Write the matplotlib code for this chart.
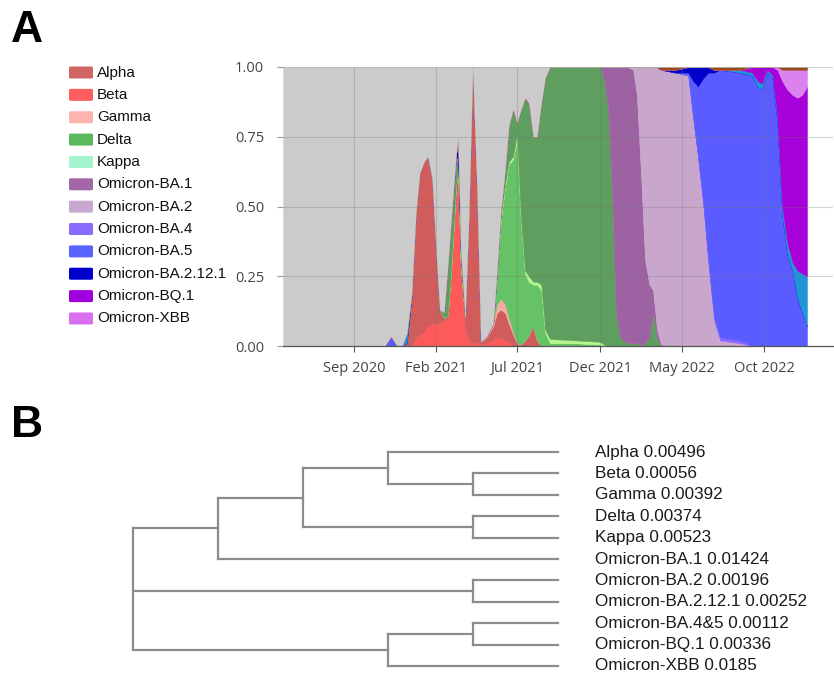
import matplotlib
matplotlib.use("Agg")
import matplotlib.pyplot as plt
import numpy as np
import pandas as pd
from matplotlib.patches import FancyBboxPatch

# %% data: lineage frequencies
dates = pd.to_datetime([
    "2020-04-23", "2020-10-28", "2020-11-09", "2020-11-20", "2020-11-29",
    "2020-12-08", "2020-12-17", "2020-12-25", "2021-01-01", "2021-01-09",
    "2021-01-16", "2021-01-24", "2021-01-31", "2021-02-07", "2021-02-15",
    "2021-02-22", "2021-03-02", "2021-03-09", "2021-03-13", "2021-03-18",
    "2021-03-26", "2021-04-02", "2021-04-09", "2021-04-17", "2021-04-24",
    "2021-05-05", "2021-05-17", "2021-05-24", "2021-05-31", "2021-06-08",
    "2021-06-15", "2021-06-23", "2021-06-30", "2021-07-07", "2021-07-15",
    "2021-07-22", "2021-07-30", "2021-08-06", "2021-08-14", "2021-08-21",
    "2021-08-30", "2021-10-16", "2021-12-01", "2021-12-08", "2021-12-16",
    "2021-12-23", "2021-12-30", "2022-01-07", "2022-01-20", "2022-01-31",
    "2022-02-07", "2022-02-15", "2022-02-22", "2022-03-02", "2022-03-09",
    "2022-03-16", "2022-03-24", "2022-04-19", "2022-05-13", "2022-05-22",
    "2022-05-31", "2022-06-10", "2022-06-19", "2022-06-30", "2022-07-11",
    "2022-08-17", "2022-09-08", "2022-09-18", "2022-09-27", "2022-10-06",
    "2022-10-16", "2022-10-25", "2022-11-03", "2022-11-12", "2022-11-22",
    "2022-12-01", "2022-12-10", "2022-12-19",
])


def span(start, values):
    # series is zero outside the stretch where it was seen
    arr = np.zeros(len(dates))
    arr[start:start + len(values)] = values
    return arr


beta = span(7, [0.03, 0.04, 0.05, 0.07, 0.08, 0.08, 0.08, 0.09, 0.10, 0.30,
                0.52, 0.58, 0.25, 0.06, 0.02, 0.01, 0.01, 0.005, 0.01, 0.02,
                0.03, 0.03, 0.02, 0.01])
alpha = span(5, [0.01, 0.18, 0.45, 0.58, 0.61, 0.61, 0.52, 0.27, 0.05, 0.01,
                 0.01, 0.03, 0.05, 0.06, 0.04, 0.04, 0.45, 0.99, 0.55, 0.01,
                 0.02, 0.05, 0.09, 0.10, 0.10, 0.07, 0.04, 0.01, 0.005, 0.02,
                 0.04, 0.07, 0.02])
gamma = span(25, [0.005, 0.01, 0.03, 0.04, 0.03, 0.02, 0.01])
delta = span(27, [0.12, 0.28, 0.42, 0.55, 0.62, 0.73, 0.45, 0.24, 0.19, 0.15,
                  0.20, 0.20, 0.05, 0.01, 0.01, 0.005])
kappa = span(28, [0.01, 0.01, 0.01, 0.01, 0.02, 0.01, 0.01, 0.02, 0.01, 0.01,
                  0.02, 0.01, 0.015, 0.01, 0.01, 0.005])
delta_ay = span(14, [0.02, 0.18, 0.17, 0.10, 0.04, 0.04, 0, 0, 0, 0,
                     0, 0, 0, 0, 0.02, 0.05, 0.13, 0.17, 0.04, 0.38,
                     0.62, 0.62, 0.52, 0.52, 0.65, 0.90, 0.975, 0.98, 0.985, 0.95,
                     0.85, 0.55, 0.12, 0.03, 0.01, 0.01, 0.01, 0.0, 0.01, 0.03,
                     0.12, 0.03])
ba1 = span(43, [0.045, 0.15, 0.45, 0.88, 0.97, 0.99, 0.98, 0.89, 0.60, 0.30,
                0.19, 0.08, 0.03, 0.005])
ba2 = span(49, [0.01, 0.10, 0.40, 0.69, 0.78, 0.80, 0.94, 0.985, 0.98, 0.97,
                0.82, 0.68, 0.50, 0.30, 0.09, 0.02, 0.01])
ba4 = span(61, [0.01, 0.01, 0.01, 0.01, 0.01])
ba5 = span(2, [0.035]) + span(58, [0.01, 0.13, 0.25, 0.45, 0.67, 0.88, 0.96,
                                   0.96, 0.97, 0.93, 0.92, 0.98, 0.96, 0.80,
                                   0.47, 0.33, 0.27, 0.17, 0.12, 0.07])
ba2121 = span(17, [0.01, 0.07, 0.01]) + span(57, [0.01, 0.02, 0.05, 0.07,
                                                 0.04, 0.02, 0.01])
ba46 = span(5, [0.035, 0.005]) + span(65, [0.01, 0.01, 0.02, 0.02, 0.01, 0.01,
                                          0.02, 0.03, 0.04, 0.03, 0.10, 0.14,
                                          0.18])
bq1 = span(66, [0.02, 0.05, 0.06, 0.01, 0.03, 0.17, 0.45, 0.55, 0.60, 0.62,
                0.64, 0.68])
xbb = span(71, [0.01, 0.04, 0.07, 0.09, 0.10, 0.09, 0.06])
recomb = span(56, [0.01, 0.01]) + span(63, [0.01, 0.01, 0.01]) \
    + span(72, [0.01, 0.01, 0.01, 0.01, 0.01, 0.01])

layers = [beta, alpha, gamma, delta, kappa, delta_ay, ba1, ba2, ba4, ba5,
          ba2121, ba46, bq1, xbb, recomb]
other = np.clip(1.0 - np.sum(layers, axis=0), 0, None)

layer_colors = ["#ff5a5a", "#d05c5c", "#f7aaa3", "#66c266", "#b6f78a",
                "#5e9e5e", "#9c62a2", "#c9a7cd", "#8a66ff", "#5a5cff",
                "#0000c8", "#2095d8", "#a800d8", "#dc82f0", "#9a4a1a",
                "#cbcbcb"]

legend_names = ["Alpha", "Beta", "Gamma", "Delta", "Kappa", "Omicron-BA.1",
                "Omicron-BA.2", "Omicron-BA.4", "Omicron-BA.5",
                "Omicron-BA.2.12.1", "Omicron-BQ.1", "Omicron-XBB"]
legend_colors = ["#d26464", "#ff5e5e", "#ffb3b0", "#5cb85c", "#a3f5d0",
                 "#a367a8", "#c8a8d0", "#8a6bff", "#5a62ff", "#0000cc",
                 "#a000dd", "#d86ef0"]

tick_dates = pd.to_datetime(["2020-09-01", "2021-02-01", "2021-07-01",
                             "2021-12-01", "2022-05-01", "2022-10-01"])
tick_labels = ["Sep 2020", "Feb 2021", "Jul 2021", "Dec 2021", "May 2022",
               "Oct 2022"]
y_ticks = [0.0, 0.25, 0.5, 0.75, 1.0]

# %% data: tree of the lineages (panel B)
leaf_names = ["Alpha", "Beta", "Gamma", "Delta", "Kappa", "Omicron-BA.1",
              "Omicron-BA.2", "Omicron-BA.2.12.1", "Omicron-BA.4&5",
              "Omicron-BQ.1", "Omicron-XBB"]
leaf_scores = [0.00496, 0.00056, 0.00392, 0.00374, 0.00523, 0.01424,
               0.00196, 0.00252, 0.00112, 0.00336, 0.0185]
tree = ((((0, (1, 2)), (3, 4)), 5), (6, 7), ((8, 9), 10))

# %% figure
W, H = 834, 675
fig = plt.figure(figsize=(W / 100, H / 100), dpi=100)


def fx(px):
    return px / W


def fy(py):
    return 1 - py / H


fig.text(fx(11), fy(42), "A", fontsize=32, fontweight="bold",
         family="Liberation Sans", va="baseline")
fig.text(fx(11), fy(437), "B", fontsize=32, fontweight="bold",
         family="Liberation Sans", va="baseline")

# legend drawn by hand
for i, (name, col) in enumerate(zip(legend_names, legend_colors)):
    yc = 72.5 + i * 22.36
    fig.patches.append(FancyBboxPatch(
        (fx(69), fy(yc + 6)), (93 - 69) / W, 12 / H,
        boxstyle="round,pad=0,rounding_size=0.002",
        transform=fig.transFigure, facecolor=col, edgecolor="none"))
    fig.text(fx(97), fy(yc), name, fontsize=11, family="Liberation Sans",
             va="center", ha="left", color="#111111")

ax = fig.add_axes([fx(283), fy(346), (833 - 283) / W, (346 - 67) / H])
polys = ax.stackplot(dates, *layers, other, colors=layer_colors, lw=0)
for p, c in zip(polys, layer_colors):
    p.set_edgecolor(c)
    p.set_linewidth(0.3)

ax.set_xlim(pd.Timestamp("2020-04-23"), pd.Timestamp("2023-02-05"))
ax.set_ylim(0, 1)
ax.set_xticks(tick_dates)
ax.set_xticklabels(tick_labels)
ax.set_yticks(y_ticks)
ax.set_yticklabels([f"{v:.2f}" for v in y_ticks])
for lab in ax.get_xticklabels() + ax.get_yticklabels():
    lab.set_family("Open Sans")
    lab.set_fontsize(10.5)
    lab.set_color("#444444")
ax.tick_params(axis="x", length=4.5, width=0.8, color="#555555", pad=6)
ax.tick_params(axis="y", length=4.5, width=0.8, color="#999999", pad=9)
for s in ["top", "right", "left"]:
    ax.spines[s].set_visible(False)
ax.spines["bottom"].set_color("#555555")
ax.spines["bottom"].set_linewidth(0.9)
ax.spines["bottom"].set_zorder(5)

for v in y_ticks[1:]:
    ax.axhline(v, color="#777777", alpha=0.3, lw=0.8, zorder=4)
for d in tick_dates:
    ax.axvline(d, color="#777777", alpha=0.3, lw=0.8, zorder=4)

# %% dendrogram
ax_b = fig.add_axes([fx(116), fy(674.5), 459 / W, 231 / H])
ax_b.set_xlim(-0.2, 5.2)
ax_b.set_ylim(10.4, -0.4)
ax_b.axis("off")

LEAF_LEVEL = 5
line_kw = dict(color="#8c8c8c", lw=1.6, solid_capstyle="projecting")


def height(node):
    if isinstance(node, int):
        return 0
    return 1 + max(height(c) for c in node)


def draw(node):
    if isinstance(node, int):
        return LEAF_LEVEL, node
    x = LEAF_LEVEL - height(node)
    kids = [draw(c) for c in node]
    ys = [k[1] for k in kids]
    ax_b.plot([x, x], [min(ys), max(ys)], **line_kw)
    for kx, ky in kids:
        ax_b.plot([x, kx], [ky, ky], **line_kw)
    return x, (ys[0] + ys[-1]) / 2


draw(tree)
for i, (name, score) in enumerate(zip(leaf_names, leaf_scores)):
    ax_b.text(5.435, i, f"{name} {score}", fontsize=12.3,
              family="Liberation Sans", va="center", ha="left",
              color="#1a1a1a")

fig.savefig("out.png", dpi=100)
